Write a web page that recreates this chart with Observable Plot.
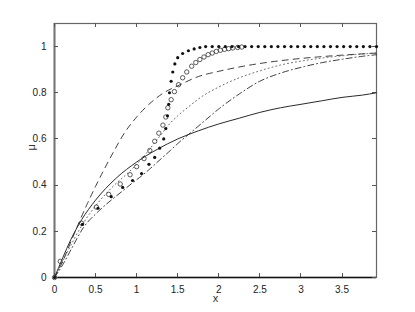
<!DOCTYPE html>
<html>
<head>
<meta charset="utf-8">
<script src="https://cdn.jsdelivr.net/npm/d3@7"></script>
<script src="https://cdn.jsdelivr.net/npm/@observablehq/plot@0.6"></script>
<style>
  html, body { margin: 0; padding: 0; background: #fff; }
  #chart { width: 415px; height: 312px; }
</style>
</head>
<body>
<div id="chart"></div>
<script>
// ---- data ----
const xTicks = [0, 0.5, 1, 1.5, 2, 2.5, 3, 3.5];
const yTicks = [0, 0.2, 0.4, 0.6, 0.8, 1];

const solidX = [0, 0.1, 0.2, 0.33, 0.5, 0.75, 1, 1.25, 1.5, 1.75, 2, 2.25, 2.5, 2.75, 3, 3.25, 3.5, 3.75, 3.92];
const solidY = [0, 0.085, 0.165, 0.25, 0.335, 0.43, 0.50, 0.555, 0.60, 0.635, 0.665, 0.69, 0.715, 0.735, 0.75, 0.765, 0.78, 0.79, 0.80];

const dashX = [0, 0.1, 0.2, 0.3, 0.4, 0.5, 0.6, 0.72, 0.85, 1.0, 1.15, 1.33, 1.5, 1.75, 2.0, 2.3, 2.6, 2.9, 3.2, 3.5, 3.92];
const dashY = [0, 0.07, 0.155, 0.24, 0.32, 0.395, 0.465, 0.545, 0.625, 0.695, 0.75, 0.80, 0.83, 0.87, 0.893, 0.915, 0.932, 0.945, 0.955, 0.963, 0.972];

const dotX = [0, 0.1, 0.2, 0.35, 0.5, 0.7, 0.9, 1.0, 1.1, 1.2, 1.3, 1.4, 1.5, 1.6, 1.8, 2.0, 2.25, 2.5, 2.75, 3.0, 3.25, 3.5, 3.75, 3.92];
const dotY = [0, 0.07, 0.14, 0.235, 0.31, 0.39, 0.455, 0.49, 0.53, 0.575, 0.62, 0.665, 0.70, 0.73, 0.785, 0.825, 0.865, 0.895, 0.92, 0.937, 0.95, 0.96, 0.968, 0.972];

const ddX = [0, 0.1, 0.2, 0.35, 0.53, 0.69, 0.83, 0.95, 1.06, 1.16, 1.3, 1.41, 1.5, 1.65, 1.8, 2.0, 2.25, 2.5, 2.75, 3.0, 3.25, 3.5, 3.75, 3.92];
const ddY = [0, 0.055, 0.12, 0.215, 0.285, 0.335, 0.375, 0.41, 0.44, 0.47, 0.515, 0.55, 0.58, 0.625, 0.67, 0.73, 0.795, 0.85, 0.885, 0.91, 0.93, 0.945, 0.958, 0.965];

const filledX = [0, 0.34, 0.53, 0.69, 0.83, 0.95, 1.06, 1.15, 1.22, 1.28, 1.33, 1.355, 1.375, 1.39, 1.40, 1.42, 1.44, 1.465, 1.50, 1.56, 1.63, 1.70, 1.77,
  1.84, 1.92, 2.00, 2.08, 2.16, 2.24, 2.32, 2.40, 2.48, 2.56, 2.64, 2.72, 2.80, 2.88, 2.96, 3.04, 3.12, 3.20, 3.28, 3.36, 3.44, 3.52, 3.60, 3.68, 3.76, 3.84, 3.92];
const filledY = [0, 0.23, 0.30, 0.35, 0.39, 0.42, 0.45, 0.49, 0.52, 0.56, 0.60, 0.645, 0.70, 0.75, 0.80, 0.85, 0.89, 0.925, 0.952, 0.97, 0.982, 0.99, 0.996,
  1, 1, 1, 1, 1, 1, 1, 1, 1, 1, 1, 1, 1, 1, 1, 1, 1, 1, 1, 1, 1, 1, 1, 1, 1, 1, 1];

const openX = [0, 0.07, 0.33, 0.51, 0.66, 0.80, 0.92, 1.00, 1.09, 1.16, 1.22, 1.27, 1.32, 1.355, 1.38, 1.42, 1.46, 1.51, 1.56, 1.61, 1.67, 1.72, 1.77, 1.82, 1.87, 1.92, 1.97, 2.02, 2.07, 2.12, 2.17, 2.23, 2.28];
const openY = [0, 0.07, 0.235, 0.305, 0.36, 0.405, 0.445, 0.48, 0.515, 0.55, 0.59, 0.625, 0.66, 0.695, 0.735, 0.77, 0.805, 0.835, 0.865, 0.89, 0.915, 0.931, 0.944, 0.955, 0.965, 0.972, 0.979, 0.984, 0.988, 0.991, 0.994, 0.996, 0.998];

const xLabel = "x";
const yLabel = "μ";

// ---- tables ----
const pts = (xs, ys) => xs.map((x, i) => ({x, y: ys[i]}));
const solid = pts(solidX, solidY);
const dashed = pts(dashX, dashY);
const dotted = pts(dotX, dotY);
const dashdot = pts(ddX, ddY);
const filled = pts(filledX, filledY);
const open = pts(openX, openY);

const lineColor = "#2a2a2a";
const fmt = d => String(d);

// inward ticks on all four sides, positioned via the scales
function inwardTicks(index, scales, values, dims) {
  const {x, y} = scales;
  const L = dims.marginLeft, R = dims.width - dims.marginRight;
  const T = dims.marginTop, B = dims.height - dims.marginBottom;
  const len = 4;
  const g = d3.create("svg:g").attr("stroke", "#555").attr("stroke-width", 1).attr("fill", "none");
  for (const t of xTicks) {
    const px = Math.round(x(t)) + 0.5;
    g.append("line").attr("x1", px).attr("x2", px).attr("y1", B).attr("y2", B - len);
    g.append("line").attr("x1", px).attr("x2", px).attr("y1", T).attr("y2", T + len);
  }
  for (const t of yTicks) {
    const py = Math.round(y(t)) + 0.5;
    g.append("line").attr("y1", py).attr("y2", py).attr("x1", L).attr("x2", L + len);
    g.append("line").attr("y1", py).attr("y2", py).attr("x1", R).attr("x2", R - len);
  }
  return g.node();
}

const chart = Plot.plot({
  width: 415,
  height: 312,
  marginLeft: 54,
  marginRight: 39,
  marginTop: 23,
  marginBottom: 35,
  x: {domain: [0, 3.92]},
  y: {domain: [0, 1.1]},
  style: {fontFamily: "'Liberation Sans', Arial, sans-serif", fontSize: "10px", color: "#222", background: "#fff"},
  marks: [
    Plot.frame({stroke: "#666", strokeWidth: 1.2}),
    Plot.ruleX([0], {stroke: "#777", strokeWidth: 2}),
    Plot.ruleY([0], {stroke: "#111", strokeWidth: 1.6}),
    inwardTicks,
    Plot.line(solid, {x: "x", y: "y", stroke: lineColor, strokeWidth: 1, curve: "monotone-x"}),
    Plot.line(dashed, {x: "x", y: "y", stroke: lineColor, strokeWidth: 0.9, strokeDasharray: "6,5", curve: "monotone-x"}),
    Plot.line(dotted, {x: "x", y: "y", stroke: "#555", strokeWidth: 0.9, strokeDasharray: "1,3", curve: "monotone-x"}),
    Plot.line(dashdot, {x: "x", y: "y", stroke: lineColor, strokeWidth: 0.9, strokeDasharray: "6,3,1,3", curve: "monotone-x"}),
    Plot.dot(open, {x: "x", y: "y", r: 2.2, stroke: "#333", strokeWidth: 0.8, fill: "none"}),
    Plot.dot(filled, {x: "x", y: "y", r: 1.6, fill: "#111", stroke: "none"}),
    Plot.axisX({ticks: xTicks, tickFormat: fmt, tickSize: 0, tickPadding: 8, label: null}),
    Plot.axisY({ticks: yTicks, tickFormat: fmt, tickSize: 0, tickPadding: 8, label: null}),
    Plot.text([xLabel], {frameAnchor: "bottom", lineAnchor: "middle", dy: 21, fontSize: 11, fill: "#333"}),
    Plot.text([yLabel], {frameAnchor: "left", dx: -23, rotate: -90, fontSize: 11, fill: "#333"})
  ]
});
document.getElementById("chart").appendChild(chart);
</script>
</body>
</html>
